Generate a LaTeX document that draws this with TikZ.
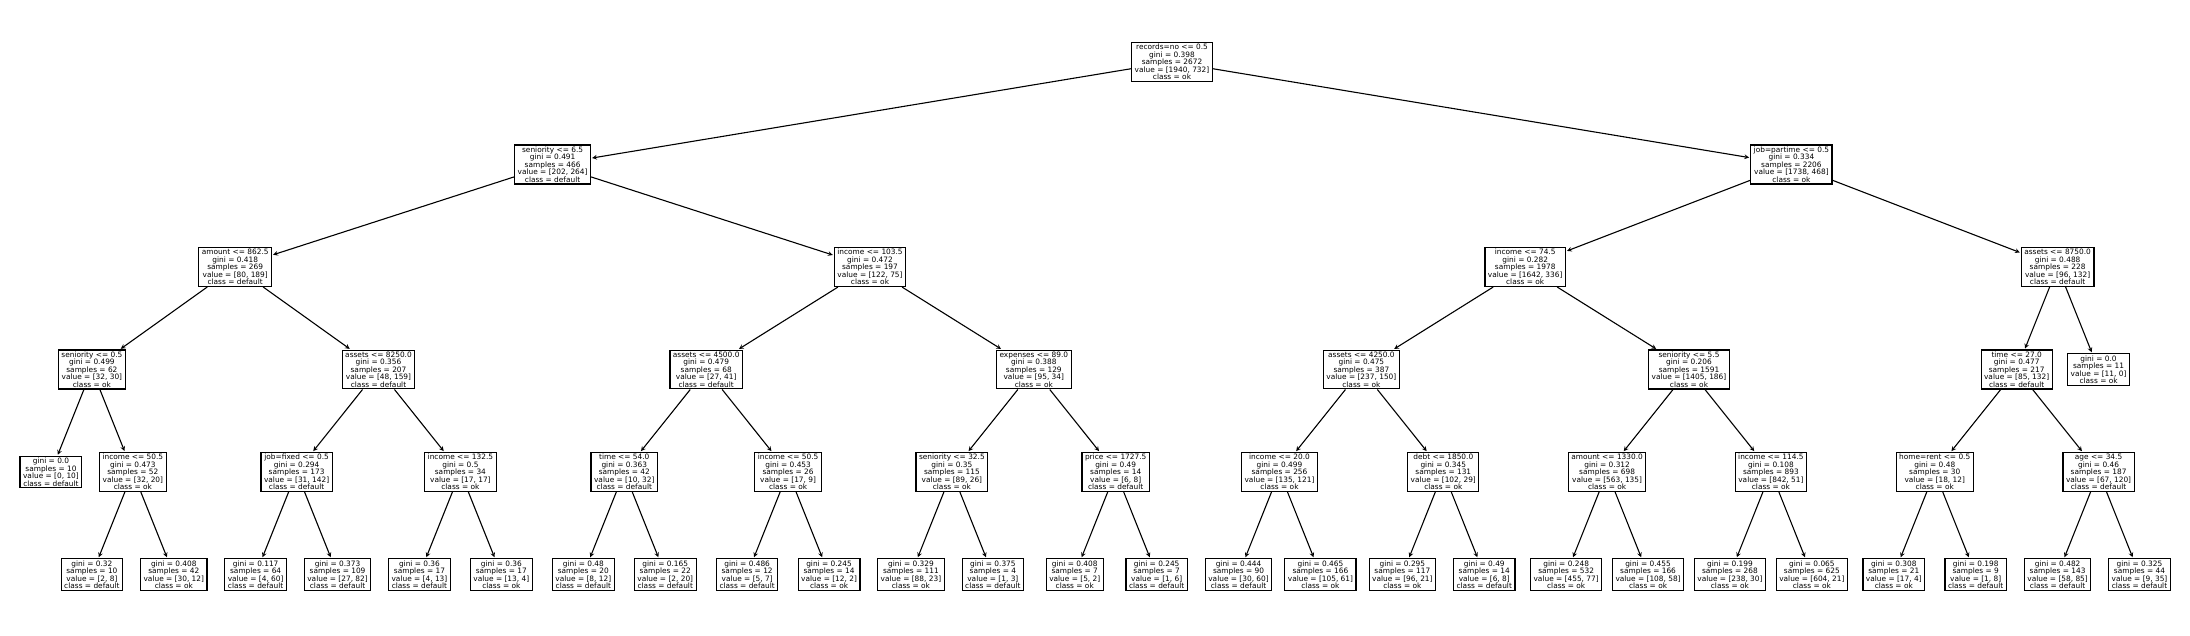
\documentclass[tikz,border=0pt]{standalone}
\usepackage{fontspec}
\setmainfont{DejaVu Sans}
\usetikzlibrary{positioning, arrows}

\begin{document}
\begin{tikzpicture}[
    > = stealth,
    shorten > = 1pt,
    on grid,
    line width = 1.1pt,
    decision/.style = {rectangle, draw, fill = white, align = center, line width = 1.2pt,
                       inner xsep = 3pt, inner ysep = 1.6pt,
                       font = \fontsize{7.4}{7.5}\selectfont},
    leaf/.style = {decision}
]
\useasboundingbox (0,0) rectangle (2190pt,-636pt);

% Level 0
\node[decision] (recNo) at (1172pt,-62pt) {records=no <= 0.5\\gini = 0.398\\samples = 2672\\value = [1940, 732]\\class = ok};

% Level 1
\node[decision, below left = 102.5pt and 619.4pt of recNo]  (sen65)   {seniority <= 6.5\\gini = 0.491\\samples = 466\\value = [202, 264]\\class = default};
\node[decision, below right = 102.5pt and 619.4pt of recNo] (jobPart) {job=partime <= 0.5\\gini = 0.334\\samples = 2206\\value = [1738, 468]\\class = ok};

% Level 2
\node[decision, below left = 102.5pt and 317.4pt of sen65]    (amt862)  {amount <= 862.5\\gini = 0.418\\samples = 269\\value = [80, 189]\\class = default};
\node[decision, below right = 102.5pt and 317.4pt of sen65]   (inc103)  {income <= 103.5\\gini = 0.472\\samples = 197\\value = [122, 75]\\class = ok};
\node[decision, below left = 102.5pt and 266.2pt of jobPart]  (inc74)   {income <= 74.5\\gini = 0.282\\samples = 1978\\value = [1642, 336]\\class = ok};
\node[decision, below right = 102.5pt and 266.2pt of jobPart] (ast8750) {assets <= 8750.0\\gini = 0.488\\samples = 228\\value = [96, 132]\\class = default};

% Level 3
\node[decision, below left = 102.5pt and 143.3pt of amt862]  (sen05)   {seniority <= 0.5\\gini = 0.499\\samples = 62\\value = [32, 30]\\class = ok};
\node[decision, below right = 102.5pt and 143.3pt of amt862] (ast8250) {assets <= 8250.0\\gini = 0.356\\samples = 207\\value = [48, 159]\\class = default};
\node[decision, below left = 102.5pt and 163.8pt of inc103]  (ast4500) {assets <= 4500.0\\gini = 0.479\\samples = 68\\value = [27, 41]\\class = default};
\node[decision, below right = 102.5pt and 163.8pt of inc103] (exp89)   {expenses <= 89.0\\gini = 0.388\\samples = 129\\value = [95, 34]\\class = ok};
\node[decision, below left = 102.5pt and 163.8pt of inc74]   (ast4250) {assets <= 4250.0\\gini = 0.475\\samples = 387\\value = [237, 150]\\class = ok};
\node[decision, below right = 102.5pt and 163.8pt of inc74]  (sen55)   {seniority <= 5.5\\gini = 0.206\\samples = 1591\\value = [1405, 186]\\class = ok};
\node[decision, below left = 102.5pt and 40.95pt of ast8750] (time27)  {time <= 27.0\\gini = 0.477\\samples = 217\\value = [85, 132]\\class = default};
\node[leaf, below right = 102.5pt and 40.95pt of ast8750]    (lf27)    {gini = 0.0\\samples = 11\\value = [11, 0]\\class = ok};

% Level 4
\node[leaf, below left = 102.5pt and 40.95pt of sen05]       (lf0)       {gini = 0.0\\samples = 10\\value = [0, 10]\\class = default};
\node[decision, below right = 102.5pt and 40.95pt of sen05]  (inc50)     {income <= 50.5\\gini = 0.473\\samples = 52\\value = [32, 20]\\class = ok};
\node[decision, below left = 102.5pt and 81.9pt of ast8250]  (jobFix)    {job=fixed <= 0.5\\gini = 0.294\\samples = 173\\value = [31, 142]\\class = default};
\node[decision, below right = 102.5pt and 81.9pt of ast8250] (inc132)    {income <= 132.5\\gini = 0.5\\samples = 34\\value = [17, 17]\\class = ok};
\node[decision, below left = 102.5pt and 81.9pt of ast4500]  (time54)    {time <= 54.0\\gini = 0.363\\samples = 42\\value = [10, 32]\\class = default};
\node[decision, below right = 102.5pt and 81.9pt of ast4500] (inc50b)    {income <= 50.5\\gini = 0.453\\samples = 26\\value = [17, 9]\\class = ok};
\node[decision, below left = 102.5pt and 81.9pt of exp89]    (sen325)    {seniority <= 32.5\\gini = 0.35\\samples = 115\\value = [89, 26]\\class = ok};
\node[decision, below right = 102.5pt and 81.9pt of exp89]   (price1727) {price <= 1727.5\\gini = 0.49\\samples = 14\\value = [6, 8]\\class = default};
\node[decision, below left = 102.5pt and 81.9pt of ast4250]  (inc20)     {income <= 20.0\\gini = 0.499\\samples = 256\\value = [135, 121]\\class = ok};
\node[decision, below right = 102.5pt and 81.9pt of ast4250] (debt1850)  {debt <= 1850.0\\gini = 0.345\\samples = 131\\value = [102, 29]\\class = ok};
\node[decision, below left = 102.5pt and 81.9pt of sen55]    (amt1330)   {amount <= 1330.0\\gini = 0.312\\samples = 698\\value = [563, 135]\\class = ok};
\node[decision, below right = 102.5pt and 81.9pt of sen55]   (inc114)    {income <= 114.5\\gini = 0.108\\samples = 893\\value = [842, 51]\\class = ok};
\node[decision, below left = 102.5pt and 81.9pt of time27]   (homeRent)  {home=rent <= 0.5\\gini = 0.48\\samples = 30\\value = [18, 12]\\class = ok};
\node[decision, below right = 102.5pt and 81.9pt of time27]  (age345)    {age <= 34.5\\gini = 0.46\\samples = 187\\value = [67, 120]\\class = default};

% Level 5 (leaves)
\node[leaf, below left = 102.5pt and 40.95pt of inc50]      (lf1)  {gini = 0.32\\samples = 10\\value = [2, 8]\\class = default};
\node[leaf, below right = 102.5pt and 40.95pt of inc50]     (lf2)  {gini = 0.408\\samples = 42\\value = [30, 12]\\class = ok};
\node[leaf, below left = 102.5pt and 40.95pt of jobFix]     (lf3)  {gini = 0.117\\samples = 64\\value = [4, 60]\\class = default};
\node[leaf, below right = 102.5pt and 40.95pt of jobFix]    (lf4)  {gini = 0.373\\samples = 109\\value = [27, 82]\\class = default};
\node[leaf, below left = 102.5pt and 40.95pt of inc132]     (lf5)  {gini = 0.36\\samples = 17\\value = [4, 13]\\class = default};
\node[leaf, below right = 102.5pt and 40.95pt of inc132]    (lf6)  {gini = 0.36\\samples = 17\\value = [13, 4]\\class = ok};
\node[leaf, below left = 102.5pt and 40.95pt of time54]     (lf7)  {gini = 0.48\\samples = 20\\value = [8, 12]\\class = default};
\node[leaf, below right = 102.5pt and 40.95pt of time54]    (lf8)  {gini = 0.165\\samples = 22\\value = [2, 20]\\class = default};
\node[leaf, below left = 102.5pt and 40.95pt of inc50b]     (lf9)  {gini = 0.486\\samples = 12\\value = [5, 7]\\class = default};
\node[leaf, below right = 102.5pt and 40.95pt of inc50b]    (lf10) {gini = 0.245\\samples = 14\\value = [12, 2]\\class = ok};
\node[leaf, below left = 102.5pt and 40.95pt of sen325]     (lf11) {gini = 0.329\\samples = 111\\value = [88, 23]\\class = ok};
\node[leaf, below right = 102.5pt and 40.95pt of sen325]    (lf12) {gini = 0.375\\samples = 4\\value = [1, 3]\\class = default};
\node[leaf, below left = 102.5pt and 40.95pt of price1727]  (lf13) {gini = 0.408\\samples = 7\\value = [5, 2]\\class = ok};
\node[leaf, below right = 102.5pt and 40.95pt of price1727] (lf14) {gini = 0.245\\samples = 7\\value = [1, 6]\\class = default};
\node[leaf, below left = 102.5pt and 40.95pt of inc20]      (lf15) {gini = 0.444\\samples = 90\\value = [30, 60]\\class = default};
\node[leaf, below right = 102.5pt and 40.95pt of inc20]     (lf16) {gini = 0.465\\samples = 166\\value = [105, 61]\\class = ok};
\node[leaf, below left = 102.5pt and 40.95pt of debt1850]   (lf17) {gini = 0.295\\samples = 117\\value = [96, 21]\\class = ok};
\node[leaf, below right = 102.5pt and 40.95pt of debt1850]  (lf18) {gini = 0.49\\samples = 14\\value = [6, 8]\\class = default};
\node[leaf, below left = 102.5pt and 40.95pt of amt1330]    (lf19) {gini = 0.248\\samples = 532\\value = [455, 77]\\class = ok};
\node[leaf, below right = 102.5pt and 40.95pt of amt1330]   (lf20) {gini = 0.455\\samples = 166\\value = [108, 58]\\class = ok};
\node[leaf, below left = 102.5pt and 40.95pt of inc114]     (lf21) {gini = 0.199\\samples = 268\\value = [238, 30]\\class = ok};
\node[leaf, below right = 102.5pt and 40.95pt of inc114]    (lf22) {gini = 0.065\\samples = 625\\value = [604, 21]\\class = ok};
\node[leaf, below left = 102.5pt and 40.95pt of homeRent]   (lf23) {gini = 0.308\\samples = 21\\value = [17, 4]\\class = ok};
\node[leaf, below right = 102.5pt and 40.95pt of homeRent]  (lf24) {gini = 0.198\\samples = 9\\value = [1, 8]\\class = default};
\node[leaf, below left = 102.5pt and 40.95pt of age345]     (lf25) {gini = 0.482\\samples = 143\\value = [58, 85]\\class = default};
\node[leaf, below right = 102.5pt and 40.95pt of age345]    (lf26) {gini = 0.325\\samples = 44\\value = [9, 35]\\class = default};

% Edges from the root down
\draw[->] (recNo) -- (sen65);
\draw[->] (recNo) -- (jobPart);

\draw[->] (sen65) -- (amt862);
\draw[->] (sen65) -- (inc103);
\draw[->] (jobPart) -- (inc74);
\draw[->] (jobPart) -- (ast8750);

\draw[->] (amt862) -- (sen05);
\draw[->] (amt862) -- (ast8250);
\draw[->] (inc103) -- (ast4500);
\draw[->] (inc103) -- (exp89);
\draw[->] (inc74) -- (ast4250);
\draw[->] (inc74) -- (sen55);
\draw[->] (ast8750) -- (time27);
\draw[->] (ast8750) -- (lf27);

\draw[->] (sen05) -- (lf0);
\draw[->] (sen05) -- (inc50);
\draw[->] (ast8250) -- (jobFix);
\draw[->] (ast8250) -- (inc132);
\draw[->] (ast4500) -- (time54);
\draw[->] (ast4500) -- (inc50b);
\draw[->] (exp89) -- (sen325);
\draw[->] (exp89) -- (price1727);
\draw[->] (ast4250) -- (inc20);
\draw[->] (ast4250) -- (debt1850);
\draw[->] (sen55) -- (amt1330);
\draw[->] (sen55) -- (inc114);
\draw[->] (time27) -- (homeRent);
\draw[->] (time27) -- (age345);

\draw[->] (inc50) -- (lf1);
\draw[->] (inc50) -- (lf2);
\draw[->] (jobFix) -- (lf3);
\draw[->] (jobFix) -- (lf4);
\draw[->] (inc132) -- (lf5);
\draw[->] (inc132) -- (lf6);
\draw[->] (time54) -- (lf7);
\draw[->] (time54) -- (lf8);
\draw[->] (inc50b) -- (lf9);
\draw[->] (inc50b) -- (lf10);
\draw[->] (sen325) -- (lf11);
\draw[->] (sen325) -- (lf12);
\draw[->] (price1727) -- (lf13);
\draw[->] (price1727) -- (lf14);
\draw[->] (inc20) -- (lf15);
\draw[->] (inc20) -- (lf16);
\draw[->] (debt1850) -- (lf17);
\draw[->] (debt1850) -- (lf18);
\draw[->] (amt1330) -- (lf19);
\draw[->] (amt1330) -- (lf20);
\draw[->] (inc114) -- (lf21);
\draw[->] (inc114) -- (lf22);
\draw[->] (homeRent) -- (lf23);
\draw[->] (homeRent) -- (lf24);
\draw[->] (age345) -- (lf25);
\draw[->] (age345) -- (lf26);

\end{tikzpicture}
\end{document}
